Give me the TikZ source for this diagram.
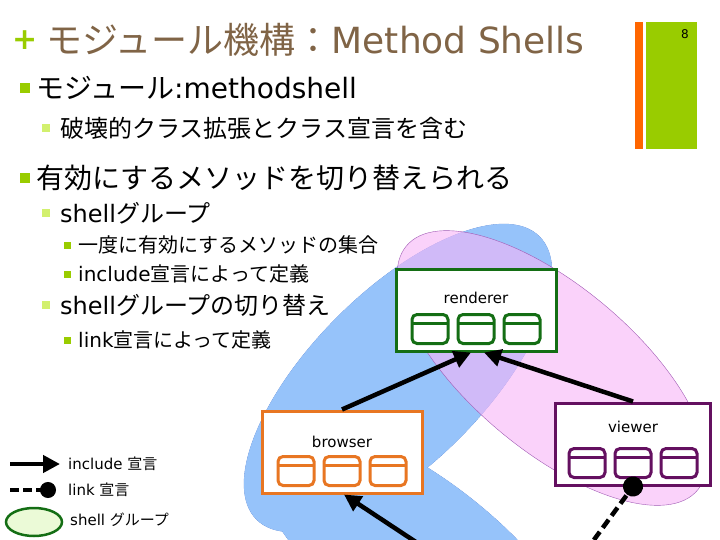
\documentclass[tikz,border=0pt]{standalone}
\usepackage{fontspec}
\setmainfont{DejaVu Sans}
\newfontfamily\ja{Noto Sans CJK JP}
\usetikzlibrary{arrows.meta,calc,shapes.geometric}

\definecolor{barGreen}{RGB}{153,204,0}
\definecolor{barOrange}{RGB}{255,102,0}
\definecolor{titleBrown}{RGB}{128,100,70}
\definecolor{subGreen}{RGB}{210,240,110}
\definecolor{rendGreen}{RGB}{20,110,20}
\definecolor{browOrange}{RGB}{232,118,34}
\definecolor{viewPurple}{RGB}{100,16,96}
\definecolor{grpBlue}{RGB}{150,195,250}
\definecolor{grpBlueLine}{RGB}{70,120,210}
\definecolor{grpPink}{RGB}{247,180,247}
\definecolor{grpPinkLine}{RGB}{160,90,180}
\definecolor{legFill}{RGB}{235,250,215}

% three method compartments under the label of a module box
\newcommand{\methods}[2]{%
  \foreach \dx in {-46,0,46}{
    \draw[#2, line width=3pt, rounded corners=5pt]
      ($(#1.south)+(\dx-18,-9)$) rectangle ($(#1.south)+(\dx+18,-38)$);
    \draw[#2, line width=3pt]
      ($(#1.south)+(\dx-18,-29)$) -- ($(#1.south)+(\dx+18,-29)$);
  }
}

\begin{document}
\begin{tikzpicture}[x=1pt,y=-1pt]
    \tikzstyle{lvlone}=[anchor=west, inner sep=0, font=\fontsize{28}{30}\selectfont];
    \tikzstyle{lvltwo}=[anchor=west, inner sep=0, font=\fontsize{24}{26}\selectfont];
    \tikzstyle{lvlthree}=[anchor=west, inner sep=0, font=\fontsize{20}{22}\selectfont];
    \tikzstyle{bulone}=[fill=barGreen, inner sep=0, minimum size=10pt];
    \tikzstyle{bultwo}=[fill=subGreen, inner sep=0, minimum size=8pt];
    \tikzstyle{bulthree}=[fill=barGreen, inner sep=0, minimum size=7pt];
    \tikzstyle{module}=[draw, fill=white, line width=3pt, minimum width=160pt, minimum height=82pt];
    \tikzstyle{modname}=[inner sep=0, font=\fontsize{15}{17}\selectfont];
    \tikzstyle{incl}=[line width=4.5pt, -{Triangle[length=17pt,width=17pt]}];
    \tikzstyle{lnk}=[line width=4.5pt, dash pattern=on 10pt off 5pt, -{Circle[length=20pt]}, shorten >=-10pt];
    \tikzstyle{legtext}=[anchor=west, inner sep=0, font=\fontsize{15}{17}\selectfont];

    \useasboundingbox (0,0) rectangle (720,540);
    \clip (0,0) rectangle (720,540);

    % side bars
    \fill[barOrange] (635,22) rectangle (643,149);
    \fill[barGreen] (646,22) rectangle (697,149);
    \node[font=\fontsize{12}{12}\selectfont] (pageno) at (685,34) {8};

    % title
    \node[anchor=west, inner sep=0, text=barGreen, font=\fontsize{30}{30}\selectfont\bfseries] (plus) at (12,40) {+};
    \node[anchor=west, inner sep=0, text=titleBrown, font=\fontsize{36}{38}\selectfont] (title) at (46,40)
        {{\ja モジュール機構：}Method Shells};

    % bullets
    \node[bulone] (b1) at (25,88) {};
    \node[lvlone] (t1) at (36,88) {{\ja モジュール}:methodshell};
    \node[bultwo] (b2) at (46,128) {};
    \node[lvltwo] (t2) at (60,128) {\ja 破壊的クラス拡張とクラス宣言を含む};
    \node[bulone] (b3) at (25,178) {};
    \node[lvlone] (t3) at (36,178) {\ja 有効にするメソッドを切り替えられる};
    \node[bultwo] (b4) at (46,213) {};
    \node[lvltwo] (t4) at (60,213) {shell{\ja グループ}};
    \node[bulthree] (b5) at (67,245) {};
    \node[lvlthree] (t5) at (78,245) {\ja 一度に有効にするメソッドの集合};
    \node[bulthree] (b6) at (67,274) {};
    \node[lvlthree] (t6) at (78,274) {include{\ja 宣言によって定義}};
    \node[bultwo] (b7) at (46,305) {};
    \node[lvltwo] (t7) at (60,305) {shell{\ja グループの切り替え}};
    \node[bulthree] (b8) at (67,340) {};
    \node[lvlthree] (t8) at (78,340) {link{\ja 宣言によって定義}};

    % shell groups
    \draw[grpBlueLine, thin, rotate around={45:(398,378)}] (398,378) ellipse [x radius=200, y radius=86];
    \draw[grpBlueLine, thin, rotate around={-38:(420,560)}] (420,560) ellipse [x radius=200, y radius=80];
    \fill[grpBlue, rotate around={45:(398,378)}] (398,378) ellipse [x radius=200, y radius=86];
    \fill[grpBlue, rotate around={-38:(420,560)}] (420,560) ellipse [x radius=200, y radius=80];
    \draw[grpPinkLine, thin, fill=grpPink, fill opacity=0.6, rotate around={-40:(552,368)}]
        (552,368) ellipse [x radius=190, y radius=82];

    % modules
    \node[module, draw=rendGreen] (renderer) at (476,310) {};
    \node[module, draw=browOrange] (browser) at (342,452) {};
    \node[module, draw=viewPurple, minimum width=155pt] (viewer) at (633,444) {};
    \node[modname] (rendname) at ($(renderer.north)+(0,30)$) {renderer};
    \node[modname] (browname) at ($(browser.north)+(0,32)$) {browser};
    \node[modname] (viewname) at ($(viewer.north)+(0,25)$) {viewer};
    \methods{renderer}{rendGreen}
    \methods{browser}{browOrange}
    \methods{viewer}{viewPurple}

    \coordinate (below1) at (428,550);
    \coordinate (below2) at (585,552);
    \draw[incl] (browser.north) -- ([xshift=-5pt]renderer.south);
    \draw[incl] (viewer.north) -- ([xshift=8pt]renderer.south);
    \draw[incl] (below1) -- ([xshift=2pt]browser.south);
    \draw[lnk] (below2) -- (viewer.south);

    % legend
    \coordinate (legInA) at (10,464);
    \coordinate (legInB) at (60,464);
    \coordinate (legLnA) at (10,490);
    \coordinate (legLnB) at (48,490);
    \draw[incl] (legInA) -- (legInB);
    \draw[lnk, dash pattern=on 9pt off 4pt, -{Circle[length=16pt]}, shorten >=-8pt] (legLnA) -- (legLnB);
    \node[ellipse, draw=rendGreen, fill=legFill, line width=2.5pt, minimum width=56pt, minimum height=28pt] (legShell) at (34,522) {};
    \node[legtext] (legIn) at (68,464) {include {\ja 宣言}};
    \node[legtext] (legLn) at (68,490) {link {\ja 宣言}};
    \node[legtext] (legSh) at (70,520) {shell {\ja グループ}};
\end{tikzpicture}
\end{document}
